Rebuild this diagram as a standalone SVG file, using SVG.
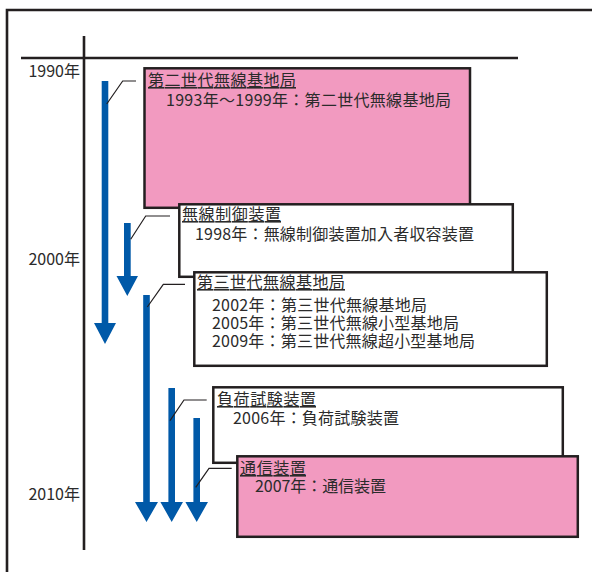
<svg xmlns="http://www.w3.org/2000/svg" width="592" height="572" viewBox="0 0 592 572">
<style>
text{font-family:"Noto Sans CJK JP","Noto Sans CJK SC",sans-serif;font-size:16px;fill:#2b2b2b}
.title{text-decoration:underline}
.yr{text-anchor:end}
.frame{stroke:#231f20;stroke-width:2.6;fill:none}
.box{stroke:#231f20;stroke-width:2.5}
.pink{fill:#f29ac0}
.white{fill:#fff}
.arrow{fill:#0059a8}
.lead{stroke:#231f20;stroke-width:1.2;fill:none}
</style>
<rect width="592" height="572" fill="#fff"/>
<g id="frame">
<path class="frame" d="M7,572 V10 H592"/>
</g>
<g id="axis">
<line class="frame" x1="84" y1="36" x2="84" y2="550"/>
<line class="frame" x1="21" y1="58" x2="518" y2="58"/>
<text class="yr" x="80" y="77">1990年</text>
<text class="yr" x="80" y="265">2000年</text>
<text class="yr" x="80" y="500">2010年</text>
</g>
<g id="connectors">
<polygon class="arrow" points="101.7,81 108.3,81 108.3,323 116,323 105,344 94,323 101.7,323"/>
<polygon class="arrow" points="124,223 130.7,223 130.7,276 138,276 127.3,296 116.5,276 124,276"/>
<polygon class="arrow" points="143.2,295 149.8,295 149.8,502 158,502 146.5,522 135,502 143.2,502"/>
<polygon class="arrow" points="168.4,388 175,388 175,502 183,502 171.7,522 160.4,502 168.4,502"/>
<polygon class="arrow" points="193.4,418 200,418 200,502 208,502 196.7,522 185.4,502 193.4,502"/>
<polyline class="lead" points="106.7,104 122.7,81 136,81"/>
<polyline class="lead" points="130.7,239.3 145.7,216 170,216"/>
<polyline class="lead" points="147.3,307 163.3,284.3 185,284.3"/>
<polyline class="lead" points="170,420.7 184,400 206.7,400"/>
<polyline class="lead" points="195.7,487.3 209,468.3 231.7,468.3"/>
</g>
<g id="node1">
<rect class="box pink" x="144.5" y="68.3" width="325.5" height="139.5"/>
<text class="title" x="148" y="86" textLength="148">第二世代無線基地局</text>
<text x="166" y="106" textLength="285">1993年～1999年：第二世代無線基地局</text>
</g>
<g id="node2">
<rect class="box white" x="179.3" y="204.3" width="333.5" height="72.5"/>
<text class="title" x="182" y="220" textLength="99">無線制御装置</text>
<text x="195" y="240" textLength="279">1998年：無線制御装置加入者収容装置</text>
</g>
<g id="node3">
<rect class="box white" x="194.3" y="272.3" width="352.5" height="93.5"/>
<text class="title" x="197" y="288" textLength="148">第三世代無線基地局</text>
<text x="212" y="311" textLength="215">2002年：第三世代無線基地局</text>
<text x="212" y="329" textLength="247">2005年：第三世代無線小型基地局</text>
<text x="212" y="347" textLength="263">2009年：第三世代無線超小型基地局</text>
</g>
<g id="node4">
<rect class="box white" x="213.3" y="387.3" width="349.5" height="75.5"/>
<text class="title" x="217" y="405" textLength="99">負荷試験装置</text>
<text x="233" y="424" textLength="166">2006年：負荷試験装置</text>
</g>
<g id="node5">
<rect class="box pink" x="237.3" y="456.3" width="340.5" height="80.5"/>
<text class="title" x="240" y="474" textLength="66">通信装置</text>
<text x="255" y="492" textLength="131">2007年：通信装置</text>
</g>
</svg>
